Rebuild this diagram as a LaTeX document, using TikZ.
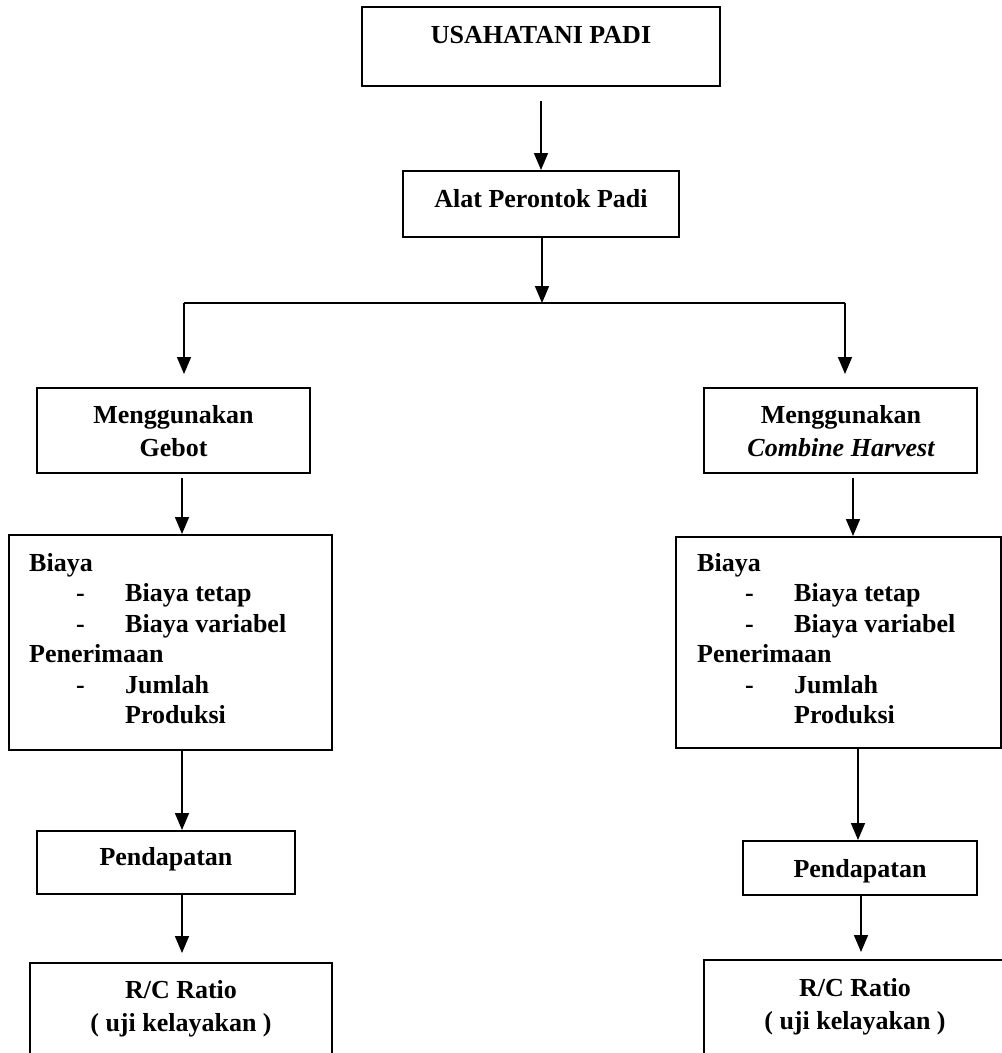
\documentclass[tikz,border=0pt]{standalone}
\usepackage{fontspec}
\setmainfont{Liberation Serif}
\usetikzlibrary{arrows.meta,calc}
\begin{document}
\begin{tikzpicture}[x=1pt,y=-1pt,
  box/.style={draw,line width=2pt,rectangle,inner sep=0pt,font=\fontsize{26}{30.5}\selectfont\bfseries},
  txt/.style={inner sep=0pt,font=\fontsize{26}{30.5}\selectfont\bfseries},
  lst/.style={txt,anchor=base west},
  arr/.style={line width=1.7pt,-{Triangle[length=17pt,width=14pt]}},
  conn/.style={line width=1.8pt}]
\useasboundingbox (0,0) rectangle (1002,1053);
\clip (0,0) rectangle (1002,1053);
\fill[white] (0,0) rectangle (1002,1053);

% boxes
\node[box,minimum width=358pt,minimum height=79pt,text height=18pt,text depth=25pt] (usaha) at (541,46.5) {USAHATANI PADI};
\node[box,minimum width=276pt,minimum height=66pt,text height=18pt,text depth=12pt] (alat) at (541,204) {Alat Perontok Padi};

\node[box,minimum width=273pt,minimum height=85pt] (gebot) at (173.5,430.5) {};
\node[txt,anchor=base] (gebotA) at (173.5,423) {Menggunakan};
\node[txt,anchor=base] (gebotB) at (173.5,456) {Gebot};

\node[box,minimum width=273pt,minimum height=85pt] (combine) at (840.5,430.5) {};
\node[txt,anchor=base] (combA) at (841,423) {Menggunakan};
\node[txt,anchor=base] (combB) at (841,456) {\itshape Combine Harvest};

\node[box,minimum width=323pt,minimum height=215pt] (biayaL) at (170.5,642.5) {};
\node[lst] (bl1) at (29,571) {Biaya};
\node[lst] (bl2d) at (76,601.5) {-};
\node[lst] (bl2) at (125,601.5) {Biaya tetap};
\node[lst] (bl3d) at (76,632) {-};
\node[lst] (bl3) at (125,632) {Biaya variabel};
\node[lst] (bl4) at (29,662.5) {Penerimaan};
\node[lst] (bl5d) at (76,693) {-};
\node[lst] (bl5) at (125,693) {Jumlah};
\node[lst] (bl6) at (125,723.5) {Produksi};

\node[box,minimum width=325pt,minimum height=211pt] (biayaR) at (838.5,642.5) {};
\node[lst] (br1) at (697,571) {Biaya};
\node[lst] (br2d) at (745,601.5) {-};
\node[lst] (br2) at (794,601.5) {Biaya tetap};
\node[lst] (br3d) at (745,632) {-};
\node[lst] (br3) at (794,632) {Biaya variabel};
\node[lst] (br4) at (697,662.5) {Penerimaan};
\node[lst] (br5d) at (745,693) {-};
\node[lst] (br5) at (794,693) {Jumlah};
\node[lst] (br6) at (794,723.5) {Produksi};

\node[box,minimum width=258pt,minimum height=63pt,text height=18pt,text depth=13pt] (pendL) at (166,862.5) {Pendapatan};
\node[box,minimum width=234pt,minimum height=54pt,text height=18pt,text depth=0pt] (pendR) at (860,868) {Pendapatan};

\node[box,minimum width=302pt,minimum height=120pt] (rcL) at (181,1023) {};
\node[txt,anchor=base] (rcLA) at (181,998) {R/C Ratio};
\node[txt,anchor=base] (rcLB) at (181,1031) {( uji kelayakan )};

\node[box,minimum width=302pt,minimum height=120pt] (rcR) at (855,1020) {};
\node[txt,anchor=base] (rcRA) at (855,996) {R/C Ratio};
\node[txt,anchor=base] (rcRB) at (855,1029) {( uji kelayakan )};

% connectors
\coordinate (jm) at (542,303);
\coordinate (jl) at (184,303);
\coordinate (jr) at (845,303);
\coordinate (cL) at (182,0);
\coordinate (cR) at (853,0);
\coordinate (cR2) at (858,0);
\coordinate (cR3) at (861,0);

\draw[arr] ($(usaha.south)+(0,14)$) -- (alat.north);
\draw[arr] (alat.south -| jm) -- (jm);
\draw[conn] (jl) -- (jr);
\draw[arr] (jl) -- ($(gebot.north -| jl)+(0,-13)$);
\draw[arr] (jr) -- ($(combine.north -| jr)+(0,-13)$);
\draw[arr] ($(gebot.south -| cL)+(0,4)$) -- (biayaL.north -| cL);
\draw[arr] ($(combine.south -| cR)+(0,4)$) -- (biayaR.north -| cR);
\draw[arr] (biayaL.south -| cL) -- (pendL.north -| cL);
\draw[arr] (biayaR.south -| cR2) -- (pendR.north -| cR2);
\draw[arr] (pendL.south -| cL) -- ($(rcL.north -| cL)+(0,-9)$);
\draw[arr] (pendR.south -| cR3) -- ($(rcR.north -| cR3)+(0,-7)$);
\end{tikzpicture}
\end{document}
